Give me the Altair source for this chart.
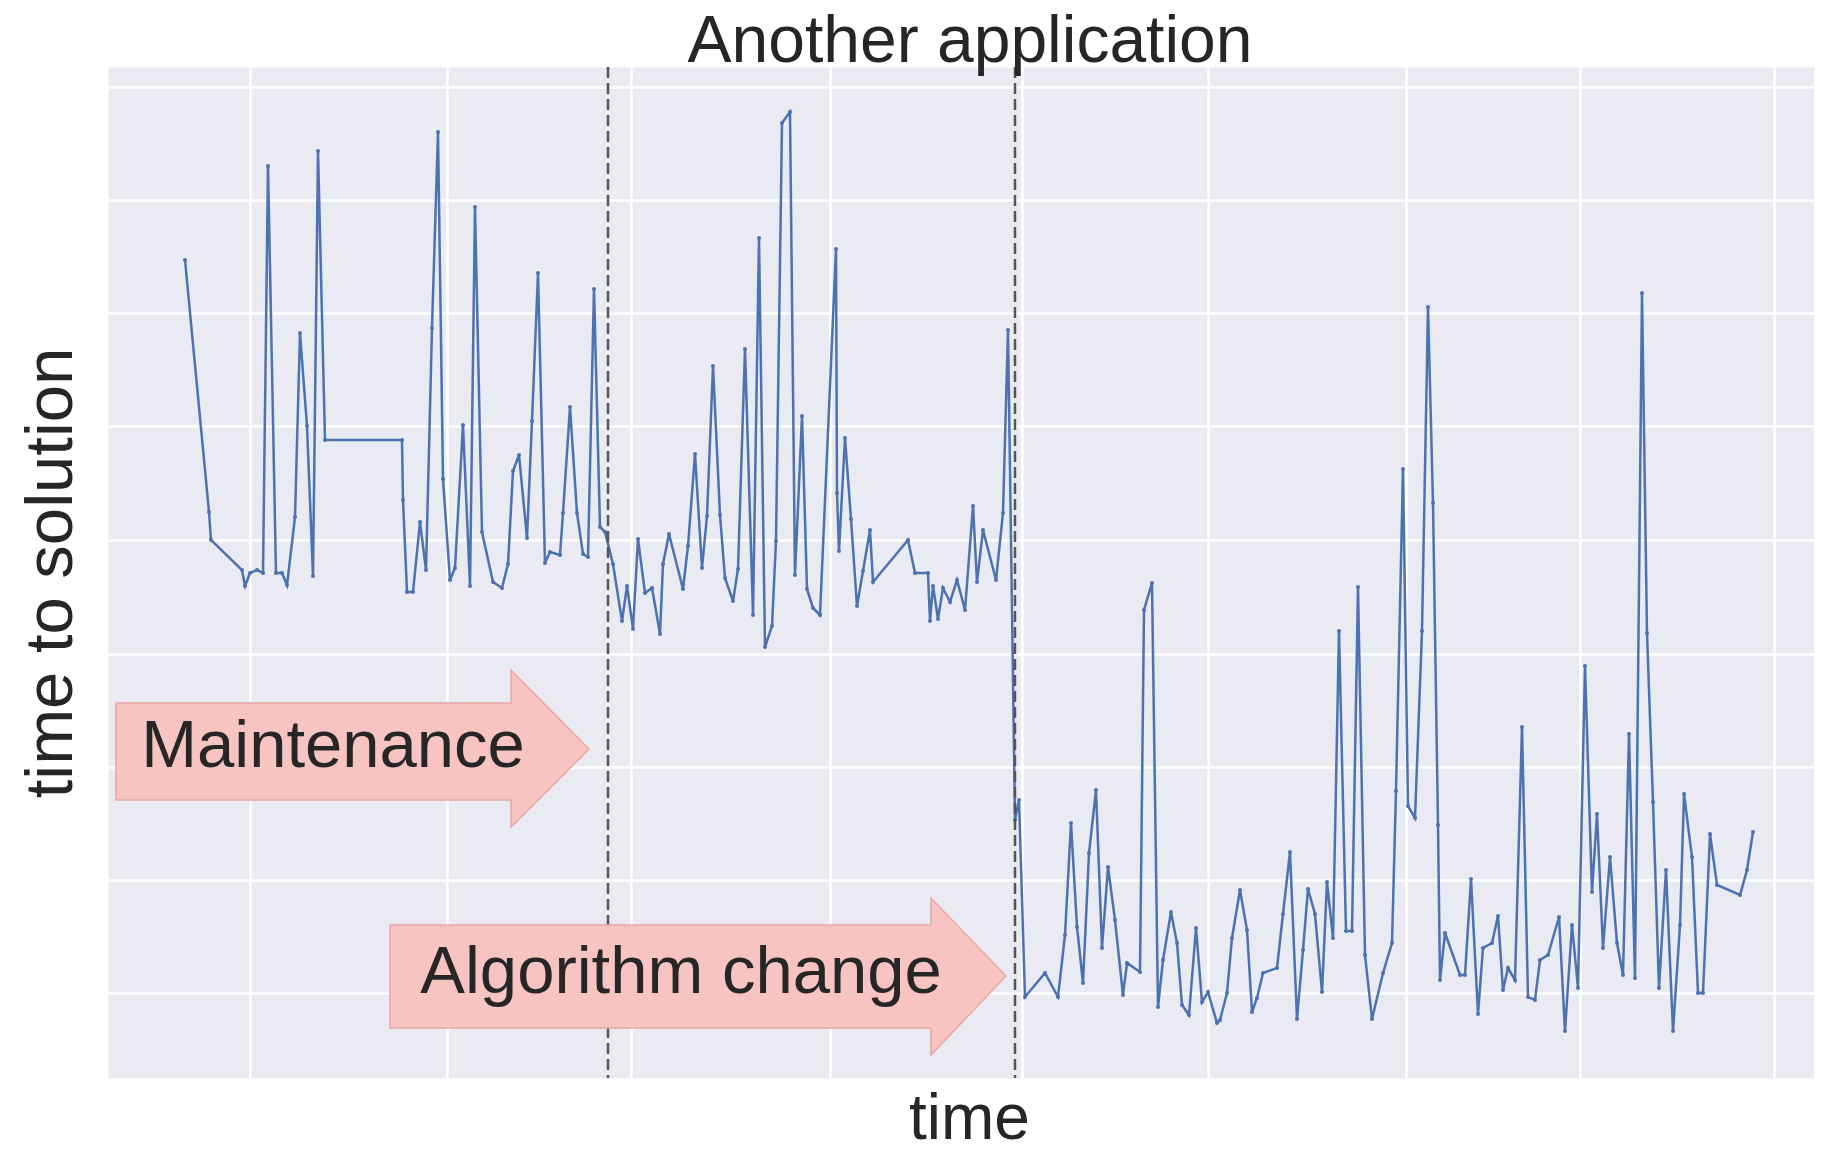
import altair as alt
import pandas as pd

# ---- series: time (arbitrary units) and time to solution (arbitrary units) ----
time = [77, 101, 103, 134, 137, 142, 149, 155, 160, 168, 174, 179, 187, 192, 199, 205, 210, 217, 294, 295,
        299, 305, 312, 318, 324, 330, 335, 342, 347,
        355, 362, 367, 374, 385, 394, 400, 405, 411, 419, 424, 430, 437, 442, 452, 455, 462, 469, 475, 480,
        486, 492, 497, 505, 514, 519, 525, 530, 537, 544, 552, 555, 561, 575, 580, 587, 594, 599, 605,
        612, 617, 625, 630, 637, 645, 651, 657, 664, 668, 674, 682, 687, 694, 699, 705, 712, 728, 729, 731,
        737, 743, 749, 755, 762, 765, 800, 807, 820, 822, 825, 830, 835, 842, 849, 857, 865, 869, 875, 888,
        895, 900,
        907, 911, 917, 937, 950, 957, 963, 969, 975, 981, 988, 994, 1000, 1007, 1015, 1019, 1032, 1036, 1044,
        1050, 1055, 1063, 1069, 1074, 1081, 1088, 1094, 1100, 1109, 1112, 1119, 1124, 1132, 1139, 1144, 1149,
        1155, 1169,
        1175, 1182, 1189, 1195, 1200, 1207, 1214, 1219, 1225, 1231, 1238, 1244, 1250, 1257, 1264, 1275, 1284,
        1288, 1295, 1300, 1307, 1314, 1320, 1325, 1330, 1332, 1337, 1352, 1357, 1363, 1370, 1375, 1384, 1390,
        1395, 1400, 1407, 1414, 1420, 1427, 1432, 1440,
        1451, 1457, 1464, 1470, 1477, 1484, 1489, 1495, 1502, 1509, 1515, 1521, 1527, 1534, 1539, 1545, 1551,
        1558, 1565, 1572, 1576, 1584, 1590, 1595, 1602, 1609, 1632, 1639, 1645]

tts = [818, 566, 538, 508, 492, 505, 508, 505, 912, 505, 505, 493, 561, 745, 652, 502, 927, 638, 638, 578,
       486, 486, 556, 508, 750, 946, 599, 498, 510,
       653, 492, 871, 546, 496, 490, 514, 607, 623, 540, 657, 805, 515, 526, 523, 565, 671, 565, 524, 521,
       789, 551, 546, 514, 457, 492, 449, 539, 485, 490, 444, 514, 544, 489, 532, 624, 510, 562, 712,
       563, 500, 477, 509, 729, 463, 840, 431, 452, 537, 955, 966, 503, 662, 489, 470, 463, 829, 585, 527,
       640, 559, 472, 507, 548, 496, 538, 505, 505, 457, 492, 459, 490, 476, 498, 468, 572, 496, 548, 498,
       565, 748,
       258, 278, 81, 105, 81, 143, 255, 151, 95, 225, 288, 130, 211, 158, 83, 115, 106, 468, 495,
       71, 118, 166, 135, 73, 63, 150, 76, 86, 55, 58, 85, 140, 188, 148, 66, 80,
       105, 110,
       164, 226, 59, 128, 189, 164, 86, 196, 140, 447, 147, 147, 491, 123, 59, 105, 135,
       287, 609, 272, 260, 447, 771, 575, 253, 98, 145, 103, 103, 199, 64, 130, 135, 162,
       88, 110, 98, 351, 81, 78, 118, 123,
       161, 47, 153, 90, 412, 186, 264, 130, 221, 135, 103, 344, 100, 785, 445, 276, 90,
       208, 47, 153, 284, 221, 85, 85, 244, 193, 183, 208, 246]

# ---- event markers ----
event_time = [500, 907]

# ---- annotation arrows (in data units) ----
arrow_name = ["Maintenance", "Algorithm change"]
arrow_start = [8, 282]
arrow_base = [403, 823]
arrow_tip = [481, 898]
body_low = [278, 50]
body_high = [375, 153]
head_low = [251, 23]
head_high = [408, 180]
tip_value = [329, 102]
label_time = [225, 573]
label_value = [311, 85]

# ---- axis grid positions ----
x_grid = [142, 339, 523, 722, 914, 1100, 1298, 1472, 1666]
y_grid = [85, 198, 311, 424, 538, 652, 765, 878, 991]

X_DOMAIN = [0, 1706]
Y_DOMAIN = [0, 1011]

FONT = "Liberation Sans"
TEXT = "#262626"
PINK = "#f8c4c2"
PINK_EDGE = "#e8a7a5"

series = pd.DataFrame({"t": time, "v": tts, "i": list(range(len(time)))})
events = pd.DataFrame({"t": event_time})

bodies = pd.DataFrame({"name": arrow_name, "t0": arrow_start, "t1": arrow_base,
                       "lo": body_low, "hi": body_high})
head_rows = []
outline_rows = []
for k, nm in enumerate(arrow_name):
    head_rows.append({"name": nm, "t": arrow_base[k], "lo": head_low[k], "hi": head_high[k]})
    head_rows.append({"name": nm, "t": arrow_tip[k], "lo": tip_value[k], "hi": tip_value[k]})
    poly = [(arrow_start[k], body_high[k]), (arrow_base[k], body_high[k]), (arrow_base[k], head_high[k]),
            (arrow_tip[k], tip_value[k]), (arrow_base[k], head_low[k]), (arrow_base[k], body_low[k]),
            (arrow_start[k], body_low[k]), (arrow_start[k], body_high[k])]
    for j, (tt, vv) in enumerate(poly):
        outline_rows.append({"name": nm, "t": tt, "v": vv, "o": j})
heads = pd.DataFrame(head_rows)
outlines = pd.DataFrame(outline_rows)
labels = pd.DataFrame({"text": arrow_name, "t": label_time, "v": label_value})

x_axis = alt.Axis(values=x_grid, labels=False, ticks=False, domain=False, grid=True,
                  title="time", titleFontSize=64, titleFont=FONT, titleFontWeight="normal",
                  titleColor=TEXT, titlePadding=60, titleBaseline="alphabetic", titleX=861)
y_axis = alt.Axis(values=y_grid, labels=False, ticks=False, domain=False, grid=True,
                  title="time to solution", titleFontSize=67, titleFont=FONT, titleFontWeight="normal",
                  titleColor=TEXT, titlePadding=37, titleBaseline="alphabetic")

xs = alt.Scale(domain=X_DOMAIN, nice=False, zero=False)
ys = alt.Scale(domain=Y_DOMAIN, nice=False, zero=False)

X = alt.X("t:Q", scale=xs, axis=x_axis)
Y = alt.Y("v:Q", scale=ys, axis=y_axis)

line = alt.Chart(series).mark_line(color="#4c72b0", strokeWidth=2.5).encode(
    x=X, y=Y, order="i:Q",
)
pts = alt.Chart(series).mark_point(filled=True, size=16, color="#4c72b0", opacity=1).encode(
    x=X, y=Y,
)
rules = alt.Chart(events).mark_rule(color="#555555", strokeWidth=2.5, strokeDash=[11, 5]).encode(
    x=X,
)
body_marks = alt.Chart(bodies).mark_rect(fill=PINK, opacity=1).encode(
    x=alt.X("t0:Q", scale=xs, axis=x_axis), x2="t1:Q",
    y=alt.Y("lo:Q", scale=ys, axis=y_axis), y2="hi:Q",
)
head_marks = alt.Chart(heads).mark_area(fill=PINK, opacity=1, orient="vertical",
                                        interpolate="linear").encode(
    x=X,
    y=alt.Y("lo:Q", scale=ys, axis=y_axis), y2="hi:Q",
    detail="name:N",
)
outline_marks = alt.Chart(outlines).mark_line(color=PINK_EDGE, strokeWidth=1.5).encode(
    x=X, y=Y, detail="name:N", order="o:Q",
)
texts = alt.Chart(labels).mark_text(
    align="center", baseline="alphabetic", fontSize=67, font=FONT, color=TEXT
).encode(
    x=X, y=Y, text="text:N",
)

chart = alt.layer(line, pts, rules, body_marks, head_marks, outline_marks, texts).properties(
    width=1706,
    height=1011,
    autosize=alt.AutoSizeParams(type="none"),
    padding={"left": 100, "top": 59, "right": 0, "bottom": 74},
    title=alt.TitleParams("Another application", fontSize=66, font=FONT, fontWeight="normal",
                          color=TEXT, anchor="middle", offset=-10, dx=9),
).configure(
    background="white", font=FONT
).configure_view(
    fill="#eaeaf2", stroke="transparent"
).configure_axis(
    gridColor="white", gridWidth=2.5, gridOpacity=1
)

chart.save("out.html", embed_options={"renderer": "svg", "actions": False})
